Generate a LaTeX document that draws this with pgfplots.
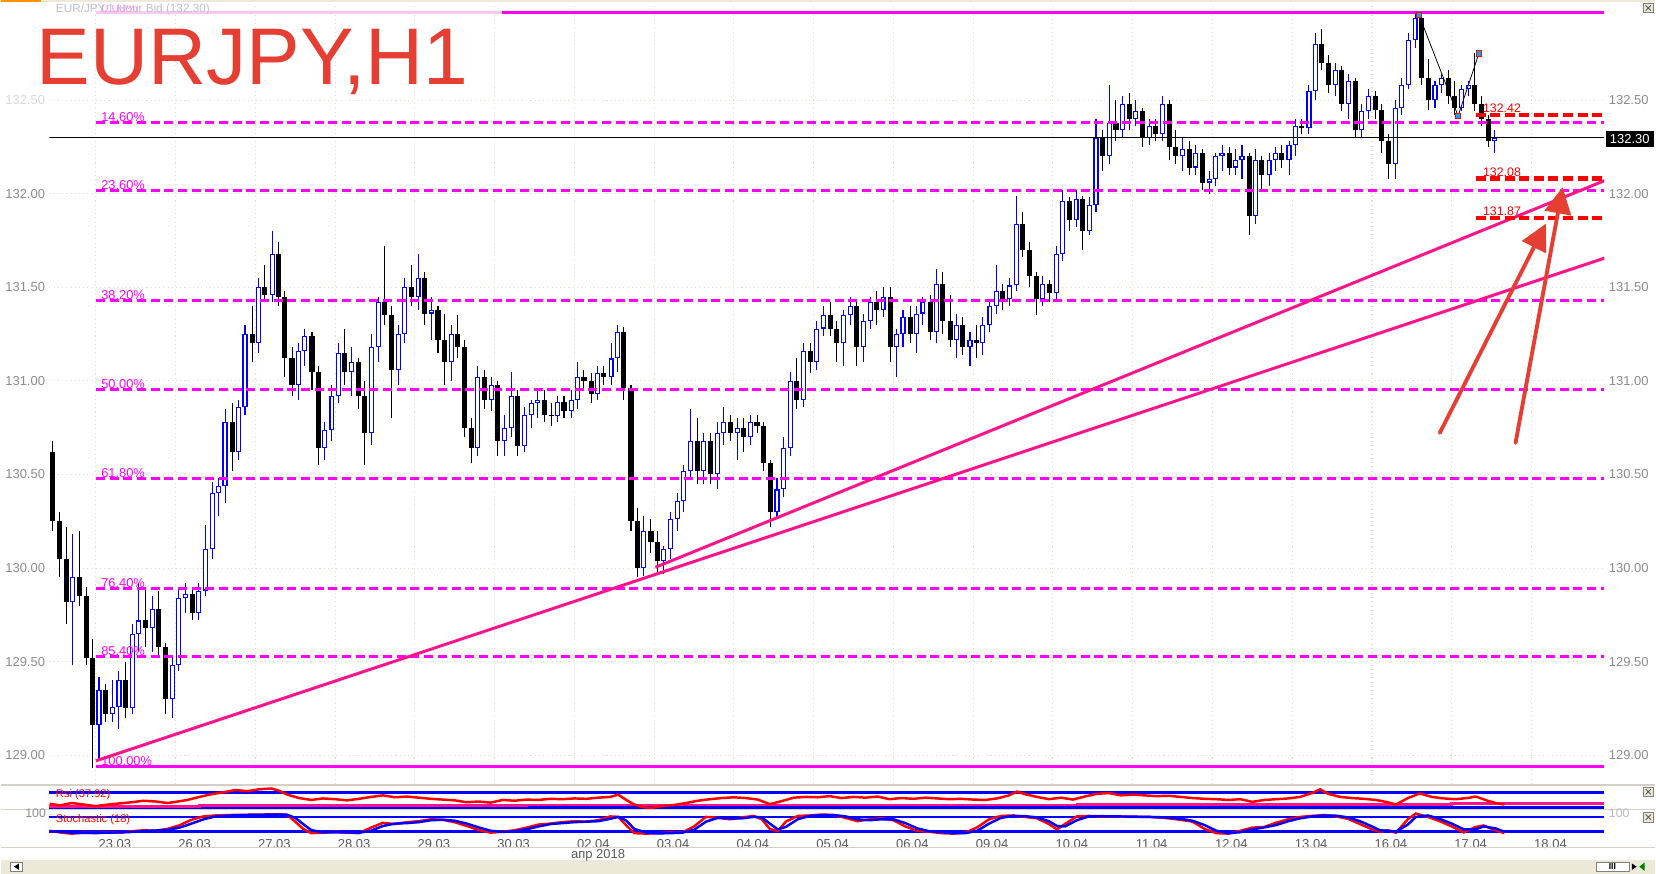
\documentclass[border=0pt]{standalone}
\usepackage{fontspec}
\setmainfont{Liberation Sans}
\usepackage{pgfplots}
\pgfplotsset{compat=1.18}
\usepackage{pgfplotstable}
\usetikzlibrary{arrows.meta}

\definecolor{fibmag}{RGB}{255,0,255}
\definecolor{fibpale}{RGB}{255,200,240}
\definecolor{trendpink}{RGB}{255,20,140}
\definecolor{arrowred}{RGB}{229,62,50}
\definecolor{gridbeige}{RGB}{226,222,205}
\definecolor{bullblue}{RGB}{0,0,255}
\definecolor{labelgray}{RGB}{140,140,140}
\definecolor{dategray}{RGB}{90,90,90}
\definecolor{chrome}{RGB}{236,233,216}
\definecolor{sepgray}{RGB}{212,208,200}

% hourly candles grouped by two hours: t (days from 23.03), open, high, low, close
\pgfplotstableread{
t o h l c
-0.54 130.62 130.68 130.20 130.25
-0.46 130.25 130.30 129.95 130.05
-0.37 130.05 130.22 129.70 129.82
-0.29 129.82 130.18 129.48 129.95
-0.21 129.95 130.20 129.80 129.85
-0.12 129.85 129.90 129.48 129.52
-0.04 129.52 129.62 128.93 129.16
0.04 129.16 129.42 128.98 129.35
0.12 129.35 129.38 129.18 129.22
0.21 129.22 129.40 129.18 129.26
0.29 129.26 129.45 129.14 129.40
0.37 129.40 129.50 129.20 129.25
0.46 129.25 129.70 129.22 129.65
0.54 129.65 129.92 129.55 129.72
0.62 129.72 129.90 129.58 129.68
0.71 129.68 129.85 129.55 129.78
0.79 129.78 129.88 129.52 129.58
0.87 129.58 129.60 129.22 129.30
0.96 129.30 129.52 129.20 129.48
1.04 129.48 129.90 129.45 129.84
1.12 129.84 129.92 129.76 129.86
1.21 129.86 129.90 129.72 129.76
1.29 129.76 129.92 129.72 129.88
1.37 129.88 130.23 129.85 130.10
1.46 130.10 130.46 130.05 130.40
1.54 130.40 130.48 130.28 130.44
1.62 130.44 130.85 130.35 130.78
1.71 130.78 130.88 130.52 130.62
1.79 130.62 130.90 130.58 130.86
1.87 130.86 131.30 130.82 131.25
1.96 131.25 131.40 131.10 131.20
2.04 131.20 131.55 131.15 131.50
2.12 131.50 131.62 131.42 131.46
2.21 131.46 131.80 131.42 131.68
2.29 131.68 131.74 131.40 131.45
2.37 131.45 131.48 131.02 131.12
2.46 131.12 131.18 130.92 130.98
2.54 130.98 131.20 130.90 131.16
2.62 131.16 131.28 131.08 131.24
2.71 131.24 131.26 130.95 131.05
2.79 131.05 131.08 130.55 130.64
2.87 130.64 130.78 130.58 130.74
2.96 130.74 130.98 130.68 130.92
3.04 130.92 131.20 130.88 131.15
3.12 131.15 131.28 130.98 131.05
3.21 131.05 131.18 130.92 131.10
3.29 131.10 131.12 130.85 130.92
3.37 130.92 131.00 130.55 130.72
3.46 130.72 131.25 130.66 131.18
3.54 131.18 131.45 131.10 131.42
3.62 131.42 131.72 131.30 131.35
3.71 131.35 131.40 130.80 131.06
3.79 131.06 131.30 130.98 131.25
3.87 131.25 131.55 131.20 131.50
3.96 131.50 131.62 131.40 131.45
4.04 131.45 131.68 131.38 131.55
4.12 131.55 131.58 131.30 131.36
4.21 131.36 131.45 131.22 131.38
4.29 131.38 131.40 131.15 131.22
4.37 131.22 131.36 130.98 131.10
4.46 131.10 131.30 131.00 131.25
4.54 131.25 131.35 131.12 131.18
4.62 131.18 131.22 130.70 130.75
4.71 130.75 130.80 130.56 130.64
4.79 130.64 131.08 130.60 131.02
4.87 131.02 131.06 130.85 130.90
4.96 130.90 131.02 130.84 130.98
5.04 130.98 131.00 130.60 130.68
5.12 130.68 130.82 130.60 130.75
5.21 130.75 131.05 130.70 130.92
5.29 130.92 130.95 130.60 130.65
5.37 130.65 130.86 130.62 130.82
5.46 130.82 130.90 130.75 130.88
5.54 130.88 130.95 130.80 130.90
5.62 130.90 130.95 130.78 130.82
5.71 130.82 130.88 130.76 130.81
5.79 130.81 130.92 130.78 130.89
5.87 130.89 130.92 130.80 130.84
5.96 130.84 130.95 130.80 130.90
6.04 130.90 131.10 130.85 131.02
6.12 131.02 131.06 130.95 131.00
6.21 131.00 131.04 130.88 130.93
6.29 130.93 131.08 130.90 131.04
6.37 131.04 131.08 130.98 131.02
6.46 131.02 131.20 130.98 131.12
6.54 131.12 131.30 131.05 131.26
6.62 131.26 131.29 130.90 130.96
6.71 130.96 130.98 130.20 130.25
6.79 130.25 130.32 129.95 130.00
6.87 130.00 130.28 129.96 130.20
6.96 130.20 130.26 130.08 130.14
7.04 130.14 130.20 129.98 130.04
7.12 130.04 130.12 129.97 130.10
7.21 130.10 130.30 130.05 130.26
7.29 130.26 130.40 130.20 130.36
7.37 130.36 130.55 130.30 130.52
7.46 130.52 130.85 130.48 130.68
7.54 130.68 130.80 130.45 130.52
7.62 130.52 130.72 130.45 130.68
7.71 130.68 130.72 130.45 130.50
7.79 130.50 130.78 130.42 130.72
7.87 130.72 130.86 130.66 130.78
7.96 130.78 130.82 130.68 130.72
8.04 130.72 130.80 130.58 130.75
8.12 130.75 130.80 130.62 130.70
8.21 130.70 130.82 130.66 130.78
8.29 130.78 130.82 130.72 130.76
8.37 130.76 130.78 130.52 130.56
8.46 130.56 130.58 130.22 130.30
8.54 130.30 130.48 130.26 130.42
8.62 130.42 130.70 130.38 130.64
8.71 130.64 131.05 130.60 131.00
8.79 131.00 131.12 130.85 130.90
8.87 130.90 131.20 130.86 131.16
8.96 131.16 131.20 131.04 131.10
9.04 131.10 131.32 131.06 131.28
9.12 131.28 131.40 131.24 131.35
9.21 131.35 131.42 131.24 131.28
9.29 131.28 131.32 131.10 131.20
9.37 131.20 131.38 131.08 131.35
9.46 131.35 131.45 131.30 131.40
9.54 131.40 131.43 131.08 131.18
9.62 131.18 131.36 131.10 131.32
9.71 131.32 131.45 131.28 131.42
9.79 131.42 131.48 131.30 131.38
9.87 131.38 131.50 131.34 131.45
9.96 131.45 131.50 131.10 131.18
10.04 131.18 131.28 131.02 131.25
10.12 131.25 131.38 131.18 131.34
10.21 131.34 131.40 131.20 131.25
10.29 131.25 131.40 131.15 131.36
10.37 131.36 131.45 131.30 131.42
10.46 131.42 131.46 131.22 131.26
10.54 131.26 131.60 131.20 131.52
10.62 131.52 131.58 131.25 131.32
10.71 131.32 131.46 131.18 131.22
10.79 131.22 131.36 131.12 131.30
10.87 131.30 131.34 131.14 131.18
10.96 131.18 131.26 131.08 131.22
11.04 131.22 131.30 131.12 131.20
11.12 131.20 131.34 131.14 131.30
11.21 131.30 131.44 131.26 131.40
11.29 131.40 131.62 131.36 131.48
11.37 131.48 131.52 131.38 131.44
11.46 131.44 131.55 131.40 131.51
11.54 131.51 131.99 131.48 131.84
11.62 131.84 131.90 131.66 131.70
11.71 131.70 131.74 131.50 131.56
11.79 131.56 131.58 131.35 131.44
11.87 131.44 131.56 131.40 131.52
11.96 131.52 131.54 131.42 131.47
12.04 131.47 131.72 131.44 131.68
12.12 131.68 132.02 131.64 131.96
12.21 131.96 131.98 131.80 131.86
12.29 131.86 132.02 131.82 131.97
12.37 131.97 131.99 131.70 131.80
12.46 131.80 131.98 131.78 131.94
12.54 131.94 132.40 131.90 132.30
12.62 132.30 132.34 132.12 132.20
12.71 132.20 132.58 132.16 132.38
12.79 132.38 132.50 132.28 132.34
12.87 132.34 132.52 132.30 132.48
12.96 132.48 132.54 132.34 132.40
13.04 132.40 132.50 132.36 132.44
13.12 132.44 132.46 132.25 132.30
13.21 132.30 132.40 132.26 132.36
13.29 132.36 132.40 132.28 132.32
13.37 132.32 132.52 132.28 132.48
13.46 132.48 132.50 132.18 132.25
13.54 132.25 132.34 132.16 132.20
13.62 132.20 132.30 132.12 132.24
13.71 132.24 132.28 132.10 132.14
13.79 132.14 132.26 132.10 132.22
13.87 132.22 132.24 132.02 132.06
13.96 132.06 132.12 132.00 132.08
14.04 132.08 132.22 132.04 132.20
14.12 132.20 132.26 132.12 132.22
14.21 132.22 132.25 132.10 132.14
14.29 132.14 132.24 132.10 132.18
14.37 132.18 132.26 132.08 132.20
14.46 132.20 132.22 131.78 131.88
14.54 131.88 132.24 131.84 132.18
14.62 132.18 132.20 132.02 132.10
14.71 132.10 132.22 132.04 132.18
14.79 132.18 132.25 132.12 132.22
14.87 132.22 132.26 132.14 132.18
14.96 132.18 132.28 132.10 132.26
15.04 132.26 132.40 132.20 132.36
15.12 132.36 132.40 132.32 132.35
15.21 132.35 132.58 132.32 132.55
15.29 132.55 132.86 132.50 132.80
15.37 132.80 132.88 132.66 132.70
15.46 132.70 132.74 132.54 132.58
15.54 132.58 132.70 132.52 132.66
15.62 132.66 132.68 132.44 132.48
15.71 132.48 132.64 132.40 132.60
15.79 132.60 132.62 132.30 132.34
15.87 132.34 132.48 132.30 132.44
15.96 132.44 132.56 132.40 132.52
16.04 132.52 132.55 132.40 132.45
16.12 132.45 132.48 132.22 132.28
16.21 132.28 132.32 132.08 132.16
16.29 132.16 132.50 132.08 132.46
16.37 132.46 132.62 132.42 132.58
16.46 132.58 132.86 132.56 132.82
16.54 132.82 132.97 132.78 132.94
16.62 132.94 132.96 132.58 132.62
16.71 132.62 132.72 132.45 132.50
16.79 132.50 132.60 132.46 132.58
16.87 132.58 132.64 132.54 132.62
16.96 132.62 132.66 132.48 132.52
17.04 132.52 132.60 132.42 132.46
17.12 132.46 132.58 132.44 132.56
17.21 132.56 132.60 132.52 132.58
17.29 132.58 132.75 132.44 132.48
17.37 132.48 132.52 132.36 132.40
17.46 132.40 132.42 132.25 132.28
17.54 132.28 132.34 132.22 132.30
}\candles

\pgfplotstableread{
t v
-0.58 40
-0.45 36
-0.30 42
-0.15 38
0.00 34
0.15 38
0.30 41
0.45 44
0.60 48
0.75 46
0.90 42
1.00 45
1.15 50
1.30 58
1.45 65
1.60 70
1.75 76
1.90 73
2.05 78
2.20 80
2.30 74
2.40 64
2.55 55
2.70 50
2.85 54
3.00 52
3.15 49
3.30 53
3.45 58
3.60 62
3.75 57
3.90 59
4.05 56
4.20 53
4.35 51
4.50 49
4.65 44
4.80 46
4.95 43
5.10 50
5.25 48
5.40 51
5.55 50
5.70 53
5.85 52
6.00 54
6.15 53
6.30 56
6.45 58
6.55 64
6.65 50
6.75 38
6.85 32
6.95 29
7.10 34
7.25 37
7.40 42
7.55 48
7.70 52
7.85 55
8.00 57
8.15 55
8.30 51
8.45 39
8.60 47
8.75 56
8.90 58
9.05 57
9.20 60
9.35 55
9.50 58
9.65 56
9.80 59
9.95 52
10.10 55
10.25 53
10.40 56
10.55 54
10.70 52
10.85 53
11.00 51
11.15 50
11.30 54
11.45 62
11.55 72
11.65 65
11.80 58
11.95 52
12.10 56
12.25 51
12.40 59
12.55 66
12.70 68
12.85 62
13.00 64
13.15 62
13.30 60
13.45 61
13.60 58
13.75 55
13.90 53
14.05 52
14.20 50
14.35 52
14.50 45
14.65 50
14.80 52
14.95 54
15.10 58
15.25 68
15.35 78
15.45 66
15.60 58
15.75 55
15.90 53
16.05 50
16.20 44
16.30 38
16.45 55
16.60 67
16.75 58
16.90 54
17.05 52
17.20 55
17.30 59
17.45 48
17.55 42
17.66 38
}\rsi

\pgfplotstableread{
t k
-0.58 22
-0.45 15
-0.30 10
-0.15 14
0.00 12
0.15 16
0.30 14
0.45 20
0.60 24
0.75 22
0.90 30
1.05 45
1.20 68
1.35 82
1.50 86
1.70 88
1.90 89
2.10 90
2.30 91
2.40 88
2.50 60
2.60 30
2.70 12
2.85 14
3.00 18
3.15 14
3.30 12
3.45 35
3.60 55
3.75 50
3.90 58
4.05 62
4.20 70
4.35 68
4.50 58
4.65 42
4.80 25
4.95 14
5.10 18
5.25 24
5.40 35
5.55 48
5.70 52
5.85 58
6.00 62
6.15 60
6.30 66
6.45 82
6.55 80
6.65 45
6.75 12
6.90 10
7.05 12
7.20 15
7.35 14
7.50 40
7.65 80
7.80 76
7.95 70
8.10 78
8.25 84
8.35 70
8.45 30
8.55 20
8.65 60
8.80 84
8.95 86
9.10 90
9.25 88
9.40 76
9.55 62
9.70 70
9.85 74
10.00 66
10.15 40
10.30 22
10.45 18
10.60 12
10.75 10
10.90 14
11.05 36
11.20 70
11.35 84
11.50 86
11.65 80
11.80 74
11.95 50
12.05 28
12.15 50
12.30 82
12.45 84
12.60 82
12.80 82
13.00 80
13.20 80
13.40 76
13.60 68
13.75 60
13.90 30
14.05 12
14.20 10
14.35 22
14.50 35
14.65 38
14.80 56
14.95 70
15.10 80
15.25 84
15.40 88
15.55 82
15.70 72
15.85 50
16.00 28
16.10 18
16.20 24
16.30 14
16.45 70
16.55 94
16.70 80
16.85 62
17.00 40
17.15 15
17.30 38
17.40 44
17.55 24
17.66 12
}\stochk

\pgfplotstableread{
t d
-0.58 20
-0.45 18
-0.30 14
-0.15 13
0.00 13
0.15 14
0.30 15
0.45 17
0.60 21
0.75 23
0.90 26
1.05 35
1.20 52
1.35 70
1.50 82
1.70 86
1.90 88
2.10 89
2.30 90
2.40 89
2.50 76
2.60 50
2.70 25
2.85 15
3.00 15
3.15 15
3.30 14
3.45 22
3.60 42
3.75 52
3.90 54
4.05 58
4.20 66
4.35 68
4.50 64
4.65 52
4.80 36
4.95 22
5.10 17
5.25 20
5.40 28
5.55 40
5.70 50
5.85 54
6.00 58
6.15 60
6.30 62
6.45 72
6.55 80
6.65 65
6.75 30
6.90 14
7.05 11
7.20 12
7.35 14
7.50 26
7.65 60
7.80 76
7.95 74
8.10 74
8.25 80
8.35 78
8.45 52
8.55 28
8.65 38
8.80 70
8.95 84
9.10 87
9.25 88
9.40 82
9.55 70
9.70 66
9.85 70
10.00 70
10.15 54
10.30 32
10.45 20
10.60 16
10.75 12
10.90 12
11.05 22
11.20 52
11.35 76
11.50 84
11.65 83
11.80 78
11.95 62
12.05 42
12.15 40
12.30 66
12.45 82
12.60 83
12.80 82
13.00 81
13.20 80
13.40 78
13.60 72
13.75 64
13.90 46
14.05 22
14.20 12
14.35 16
14.50 28
14.65 36
14.80 46
14.95 62
15.10 74
15.25 82
15.40 86
15.55 85
15.70 78
15.85 62
16.00 40
16.10 24
16.20 22
16.30 18
16.45 48
16.55 80
16.70 86
16.85 72
17.00 52
17.15 28
17.30 28
17.40 40
17.55 32
17.66 18
}\stochd

\begin{document}
\begin{tikzpicture}
% 1 screen pixel = 0.3mm, y downwards
\begin{scope}[x=0.3mm,y=-0.3mm]
\fill[white] (0,0) rectangle (1568,828);
\end{scope}

% price panel
\begin{axis}[
    at={(13.8mm,-1.5mm)}, anchor=north west,
    scale only axis, width=442.2mm, height=221.4mm,
    xmin=-0.582, xmax=18.915, ymin=128.847, ymax=133.007,
    axis line style={draw=none}, major tick length=0pt,
    xtick={0,...,18}, xticklabels={},
    ytick={129,129.5,...,132.5},
    yticklabels={129.00,129.50,130.00,130.50,131.00,131.50,132.00,\textcolor{black!15}{132.50}},
    yticklabel style={font=\fontsize{10.5}{12}\selectfont, text=labelgray},
    xmajorgrids, ymajorgrids,
    grid style={gridbeige, line width=0.3mm, dash pattern=on 0.3mm off 0.9mm},
    candle/.style={draw=none, no markers, forget plot,
      error bars/y dir=plus, error bars/y explicit, error bars/error mark=none},
]
% bearish candles
\addplot[candle, error bars/error bar style={draw=black, line width=0.3mm}]
    table[x=t, y expr={\thisrow{c}<=\thisrow{o} ? \thisrow{l} : nan},
          y error plus expr={\thisrow{h}-\thisrow{l}}] {\candles};
\addplot[candle, error bars/error bar style={draw=black, line width=1.45mm}]
    table[x=t, y expr={\thisrow{c}<=\thisrow{o} ? \thisrow{c} : nan},
          y error plus expr={\thisrow{o}-\thisrow{c}}] {\candles};
% bullish candles, hollow
\addplot[candle, error bars/error bar style={draw=bullblue, line width=0.3mm}]
    table[x=t, y expr={\thisrow{c}>\thisrow{o} ? \thisrow{l} : nan},
          y error plus expr={\thisrow{h}-\thisrow{l}}] {\candles};
\addplot[candle, error bars/error bar style={draw=bullblue, line width=1.45mm}]
    table[x=t, y expr={\thisrow{c}>\thisrow{o} ? \thisrow{o} : nan},
          y error plus expr={\thisrow{c}-\thisrow{o}}] {\candles};
\addplot[candle, error bars/error bar style={draw=white, line width=0.8mm}]
    table[x=t, y expr={\thisrow{c}-\thisrow{o}>0.016 ? \thisrow{o}+0.0056 : nan},
          y error plus expr={\thisrow{c}-\thisrow{o}-0.0112}] {\candles};

% fibonacci levels
\addplot[fibpale, line width=0.85mm] coordinates {(0,132.968) (5.09,132.968)};
\addplot[fibmag, line width=0.85mm] coordinates {(5.09,132.968) (18.915,132.968)};
\addplot[fibmag, line width=0.85mm] coordinates {(0,128.938) (18.915,128.938)};
\pgfplotsinvokeforeach{132.380,132.017,131.429,130.953,130.478,129.889,129.526}{
  \addplot[fibmag, line width=0.8mm, dash pattern=on 2.56mm off 1.33mm]
    coordinates {(0,#1) (18.915,#1)};
}
\begin{scope}[font=\fontsize{10.4}{12}\selectfont, text=fibmag]
\node[anchor=base west, inner sep=0pt, yshift=0.3mm] at (axis cs:0.065,132.380) {14.60\%};
\node[anchor=base west, inner sep=0pt, yshift=0.3mm] at (axis cs:0.065,132.017) {23.60\%};
\node[anchor=base west, inner sep=0pt, yshift=0.3mm] at (axis cs:0.065,131.429) {38.20\%};
\node[anchor=base west, inner sep=0pt, yshift=0.3mm] at (axis cs:0.065,130.953) {50.00\%};
\node[anchor=base west, inner sep=0pt, yshift=0.3mm] at (axis cs:0.065,130.478) {61.80\%};
\node[anchor=base west, inner sep=0pt, yshift=0.3mm] at (axis cs:0.065,129.889) {76.40\%};
\node[anchor=base west, inner sep=0pt, yshift=0.3mm] at (axis cs:0.065,129.526) {85.40\%};
\node[anchor=base west, inner sep=0pt, yshift=0.3mm] at (axis cs:0.065,128.938) {100.00\%};
\node[anchor=base west, inner sep=0pt, yshift=0.1mm, text=fibmag!45] at (axis cs:0.065,132.968) {0.00\%};
\end{scope}

% trend lines
\addplot[trendpink, line width=0.85mm] coordinates {(0,128.97) (18.915,131.656)};
\addplot[trendpink, line width=0.85mm] coordinates {(7.015,130.004) (18.915,132.07)};

% current bid
\addplot[black, line width=0.3mm] coordinates {(-0.582,132.30) (18.915,132.30)};

% red target levels
\pgfplotsinvokeforeach{132.42,132.08,131.87}{
  \addplot[red, line width=1.3mm, dash pattern=on 2.84mm off 1.3mm]
    coordinates {(17.30,#1) (18.915,#1)};
  \node[anchor=base west, inner sep=0pt, yshift=0.7mm, text=red,
        font=\fontsize{10}{12}\selectfont] at (axis cs:17.39,#1) {#1};
}

% zigzag
\addplot[black, line width=0.22mm, mark=square*, mark size=2.2pt,
    mark options={fill=cyan, draw=red, line width=0.35mm, solid}]
    coordinates {(16.59,132.955) (17.08,132.416) (17.34,132.749)};

% arrows
\draw[arrowred, line width=1.1mm, line cap=round, -{Triangle[length=7.5mm, width=7.5mm]}]
    (axis cs:16.85,130.722) -- (axis cs:18.18,131.840);
\draw[arrowred, line width=1.1mm, line cap=round, -{Triangle[length=7.5mm, width=7.5mm]}]
    (axis cs:17.80,130.669) -- (axis cs:18.39,132.035);
\end{axis}

% right price scale
\begin{axis}[
    at={(13.8mm,-1.5mm)}, anchor=north west,
    scale only axis, width=442.2mm, height=221.4mm,
    xmin=-0.582, xmax=18.915, ymin=128.847, ymax=133.007,
    axis line style={draw=none}, major tick length=0pt,
    xtick=\empty, yticklabel pos=right,
    ytick={129,129.5,...,132.5},
    yticklabels={129.00,129.50,130.00,130.50,131.00,131.50,132.00,132.50},
    yticklabel style={font=\fontsize{10.5}{12}\selectfont, text=labelgray},
]
\end{axis}

% RSI panel
\begin{axis}[
    at={(13.8mm,-223.5mm)}, anchor=north west,
    scale only axis, width=442.2mm, height=6.6mm,
    xmin=-0.582, xmax=18.915, ymin=25.86, ymax=86.55,
    axis line style={draw=none}, major tick length=0pt,
    xtick=\empty, ytick=\empty, clip=false,
]
\addplot[bullblue, line width=0.75mm] coordinates {(-0.582,70) (18.915,70)};
\addplot[bullblue, line width=0.75mm] coordinates {(-0.582,30) (18.915,30)};
\addplot[trendpink, line width=0.75mm, const plot]
    coordinates {(-0.582,33) (1.3,35) (5.4,36.5) (12.3,38.5) (17.0,40) (18.915,40)};
\addplot[red, line width=0.7mm] table[x=t, y=v] {\rsi};
\end{axis}

% Stochastic panel with the date row
\begin{axis}[
    at={(13.8mm,-230.4mm)}, anchor=north west,
    scale only axis, width=442.2mm, height=7.2mm,
    xmin=-0.582, xmax=18.915, ymin=1.9, ymax=107.8,
    axis line style={draw=none}, major tick length=0pt,
    ytick=\empty, clip=false,
    xtick={0.238,1.238,...,18.238},
    xticklabels={23.03,26.03,27.03,28.03,29.03,30.03,02.04,03.04,04.04,05.04,06.04,09.04,10.04,11.04,12.04,13.04,16.04,17.04,18.04},
    xticklabel style={font=\fontsize{10.5}{12}\selectfont, text=dategray, inner sep=0pt, yshift=-0.9mm},
]
\addplot[bullblue, line width=0.75mm] coordinates {(-0.582,80) (18.915,80)};
\addplot[bullblue, line width=0.75mm] coordinates {(-0.582,20) (18.915,20)};
\addplot[red, line width=0.7mm] table[x=t, y=k] {\stochk};
\addplot[bullblue, line width=0.7mm] table[x=t, y=d] {\stochd};
\end{axis}

% window parts, title and labels
\begin{scope}[x=0.3mm,y=-0.3mm]
\fill[chrome] (0,0) rectangle (1568,2);
\fill[orange!85!yellow] (0,0) rectangle (38,2);
\draw[sepgray, line width=0.5mm] (0,744) -- (1568,744);
\draw[sepgray, line width=0.4mm] (0,767.5) -- (1568,767.5);
\draw[sepgray, line width=0.3mm] (0,803) -- (1568,803);
\fill[chrome] (0,815) rectangle (1568,828);
\draw[gray, fill=white] (9,817) rectangle (20,826);
\fill[black] (17,818.5) -- (17,824.5) -- (12.5,821.5) -- cycle;
\draw[gray, fill=white] (1512,817) rectangle (1543,826);
\node[font=\fontsize{7}{8}\selectfont\bfseries] at (1527.5,821.5) {III};
\fill[black] (1546,818.5) -- (1546,824.5) -- (1550.5,821.5) -- cycle;
\fill[green!50!black] (1553,821.5) -- (1558,817.5) -- (1558,825.5) -- cycle;
\foreach \yy in {3,746,770} {
  \draw[gray, fill=chrome] (1557,\yy) rectangle (1566,\yy+9);
  \draw[gray!70!black, line width=0.25mm] (1559,\yy+2) -- (1564,\yy+7) (1559,\yy+7) -- (1564,\yy+2);
}
\node[anchor=base west, inner sep=0pt, text=arrowred, font=\fontsize{65}{72}\selectfont]
    at (34,80) {EURJPY,H1};
\node[anchor=west, inner sep=0pt, text={rgb,255:red,190;green,190;blue,215}, font=\fontsize{9.5}{11}\selectfont]
    at (52,9) {EUR/JPY,1 Hour Bid (132.30)};
\fill[black] (1521,124) rectangle (1567,139);
\node[text=white, font=\fontsize{10.5}{12}\selectfont, inner sep=0pt] at (1544,131.5) {132.30};
\node[anchor=west, inner sep=0pt, text=red, font=\fontsize{9}{10}\selectfont] at (52,753) {Rsi (37.92)};
\node[anchor=west, inner sep=0pt, text=red, font=\fontsize{9}{10}\selectfont] at (52,777) {Stochastic (18)};
\node[anchor=east, inner sep=0pt, text=labelgray, font=\fontsize{10}{11}\selectfont] at (43,771) {100};
\node[anchor=west, inner sep=0pt, text=labelgray!60, font=\fontsize{10}{11}\selectfont] at (1524,771) {100};
\node[text=dategray, font=\fontsize{10.5}{12}\selectfont, inner sep=0pt] at (566,811) {апр 2018};
\end{scope}
\end{tikzpicture}
\end{document}
